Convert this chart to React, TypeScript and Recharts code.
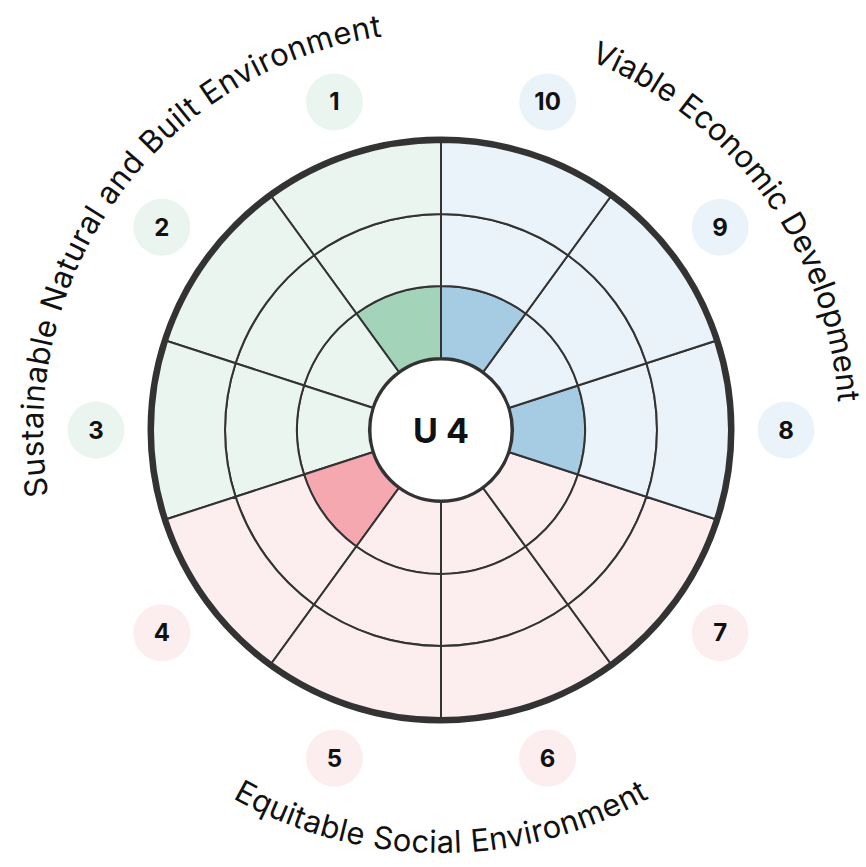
import React from "react";
import { PieChart, Pie, Cell, Customized } from "recharts";

const SECTOR_NUMBERS = [1, 2, 3, 4, 5, 6, 7, 8, 9, 10];
const SECTOR_GROUPS = ["natural", "natural", "natural", "social", "social", "social", "social", "economic", "economic", "economic"];
const SECTOR_SCORES = [1, 0, 0, 1, 0, 0, 0, 1, 0, 1];
const RING_LEVELS = [1, 2, 3];
const GROUP_KEYS = ["natural", "social", "economic"];
const GROUP_TITLES = ["Sustainable Natural and Built Environment", "Equitable Social Environment", "Viable Economic Development"];
const CENTER_LABEL = "U 4";

const LIGHT: Record<string, string> = { natural: "#EAF5EF", social: "#FCEDEE", economic: "#EBF3FA" };
const DARK: Record<string, string> = { natural: "#A3D3B9", social: "#F5A8B0", economic: "#A5CCE3" };
const INK = "#333333";

const W = 866;
const H = 867;
const CX = 441;
const CY = 430;
const RADII = [72, 144, 216, 288];
const RAD = Math.PI / 180;
const FONT = "Inter, 'Noto Sans', sans-serif";

const rows = SECTOR_NUMBERS.map((n, i) => ({ name: String(n), group: SECTOR_GROUPS[i], score: SECTOR_SCORES[i], share: 1 }));

const pt = (r: number, a: number) => [CX + r * Math.cos(a * RAD), CY - r * Math.sin(a * RAD)];

// arc for the curved group titles, angles in degrees (math convention)
function arcPath(r: number, from: number, to: number, sweep: number) {
  const [x1, y1] = pt(r, from);
  const [x2, y2] = pt(r, to);
  return `M ${x1} ${y1} A ${r} ${r} 0 0 ${sweep} ${x2} ${y2}`;
}

function groupMid(g: string) {
  const idx = SECTOR_GROUPS.map((s, i) => (s === g ? i : -1)).filter((i) => i >= 0);
  const start = 90 + idx[0] * 36;
  const end = 90 + (idx[idx.length - 1] + 1) * 36;
  return ((start + end) / 2) % 360;
}

const TITLE_LEN: Record<string, number> = { natural: 632, social: 436, economic: 445 };

function Titles() {
  return (
    <g>
      <defs>
        {GROUP_KEYS.map((g) => {
          const mid = groupMid(g);
          const bottom = mid > 200 && mid < 340;
          const d = bottom ? arcPath(423, mid - 80, mid + 80, 0) : arcPath(398, mid + 80, mid - 80, 1);
          return <path key={g} id={`arc-${g}`} d={d} fill="none" />;
        })}
      </defs>
      {GROUP_KEYS.map((g, i) => (
        <text key={g} fontFamily={FONT} fontSize={31} fill="#111">
          <textPath href={`#arc-${g}`} startOffset="50%" textAnchor="middle" textLength={TITLE_LEN[g]} lengthAdjust="spacing">
            {GROUP_TITLES[i]}
          </textPath>
        </text>
      ))}
    </g>
  );
}

function Frame() {
  return (
    <g>
      <circle cx={CX} cy={CY} r={RADII[3] + 2} fill="none" stroke={INK} strokeWidth={7} />
      <circle cx={CX} cy={CY} r={RADII[0]} fill="#fff" stroke={INK} strokeWidth={5} />
      <text x={CX} y={CY} textAnchor="middle" dominantBaseline="central" fontFamily={FONT} fontWeight={700} fontSize={34} fill="#111">
        {CENTER_LABEL}
      </text>
    </g>
  );
}

const renderBubble = (props: any) => {
  const cx = props.cx ?? CX;
  const cy = props.cy ?? CY;
  const r = 345;
  const x = cx + r * Math.cos(-props.midAngle * RAD);
  const y = cy + r * Math.sin(-props.midAngle * RAD);
  const row = rows[props.index];
  return (
    <g key={`b-${props.index}`}>
      <circle cx={x} cy={y} r={28.5} fill={LIGHT[row.group]} />
      <text x={x} y={y} textAnchor="middle" dominantBaseline="central" fontFamily={FONT} fontWeight={700} fontSize={24} fill="#111">
        {row.name}
      </text>
    </g>
  );
};

export default function App() {
  return (
    <div style={{ position: "absolute", left: 0, top: 0, width: W, height: H, background: "#fff" }}>
      <PieChart width={W} height={H} margin={{ top: 0, right: 0, bottom: 0, left: 0 }}>
        {RING_LEVELS.map((level) => (
          <Pie
            key={level}
            data={rows}
            dataKey="share"
            cx={CX}
            cy={CY}
            innerRadius={RADII[level - 1]}
            outerRadius={RADII[level]}
            startAngle={90}
            endAngle={450}
            stroke={INK}
            strokeWidth={2}
            isAnimationActive={false}
            label={level === 3 ? renderBubble : false}
            labelLine={false}
          >
            {rows.map((r) => (
              <Cell key={r.name} fill={r.score >= level ? DARK[r.group] : LIGHT[r.group]} />
            ))}
          </Pie>
        ))}
        <Customized component={Frame} />
        <Customized component={Titles} />
      </PieChart>
    </div>
  );
}
